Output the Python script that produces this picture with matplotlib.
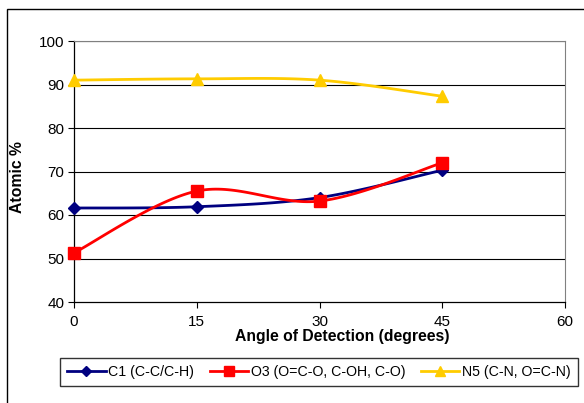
import numpy as np
import matplotlib
matplotlib.use("Agg")
import matplotlib.pyplot as plt
from matplotlib.patches import Rectangle
from matplotlib.lines import Line2D

angles = [0, 15, 30, 45]
c1 = [61.6, 61.9, 64.0, 70.3]
o3 = [51.3, 65.5, 63.2, 72.0]
n5 = [91.0, 91.3, 91.0, 87.3]
labels = ["C1 (C-C/C-H)", "O3 (O=C-O, C-OH, C-O)", "N5 (C-N, O=C-N)"]
xticks = [0, 15, 30, 45, 60]
yticks = [40, 50, 60, 70, 80, 90, 100]

plt.rcParams['font.family'] = ['Liberation Sans', 'DejaVu Sans']


def smooth(x, y, n=40):
    # Excel-style smoothed line: cubic Bezier with Catmull-Rom control points
    x = np.asarray(x, float); y = np.asarray(y, float)
    px = np.concatenate([[x[0]], x, [x[-1]]])
    py = np.concatenate([[y[0]], y, [y[-1]]])
    xs, ys = [], []
    t = np.linspace(0, 1, n)
    for i in range(1, len(px) - 2):
        p0 = np.array([px[i], py[i]]); p3 = np.array([px[i + 1], py[i + 1]])
        p1 = p0 + (np.array([px[i + 1], py[i + 1]]) - np.array([px[i - 1], py[i - 1]])) / 6
        p2 = p3 - (np.array([px[i + 2], py[i + 2]]) - np.array([px[i], py[i]])) / 6
        b = ((1 - t) ** 3)[:, None] * p0 + (3 * (1 - t) ** 2 * t)[:, None] * p1 + \
            (3 * (1 - t) * t ** 2)[:, None] * p2 + (t ** 3)[:, None] * p3
        xs.extend(b[:, 0]); ys.extend(b[:, 1])
    return xs, ys


fig = plt.figure(figsize=(5.84, 4.03), dpi=100)
fig.patch.set_facecolor('white')
fig.patches.append(Rectangle((6.5 / 584, -0.1), 1.2, 1 - 9.5 / 403 + 0.1,
                             transform=fig.transFigure, fill=False,
                             edgecolor='black', linewidth=1.0))

ax = fig.add_axes([74 / 584, 1 - 302 / 403, (565 - 74) / 584, (302 - 41) / 403])
ax.set_xlim(0, 60)
ax.set_ylim(40, 100)
ax.set_xticks(xticks)
ax.set_yticks(yticks)
ax.tick_params(labelsize=11, direction='out', length=4, width=0.8, colors='black')
ax.tick_params(axis='x', pad=5)
ax.tick_params(axis='y', pad=3)
for y in yticks[1:]:
    ax.axhline(y, color='black', linewidth=0.8, zorder=1)
ax.spines['top'].set_color('#808080')
ax.spines['right'].set_color('#808080')
ax.spines['left'].set_linewidth(0.9)
ax.spines['bottom'].set_linewidth(0.9)

series = [
    (c1, '#000080', 'D', 6),
    (o3, '#FF0000', 's', 8.5),
    (n5, '#FFCC00', '^', 9),
]
leg_ms = [5, 7, 7.5]
handles = []
for (vals, col, mk, ms), lab, lms in zip(series, labels, leg_ms):
    sx, sy = smooth(angles, vals)
    ax.plot(sx, sy, color=col, linewidth=2, zorder=3, clip_on=False)
    ax.plot(angles, vals, linestyle='none', marker=mk, markersize=ms,
            color=col, markeredgecolor=col, zorder=4, clip_on=False)
    handles.append(Line2D([], [], color=col, linewidth=2, marker=mk,
                          markersize=lms, markeredgecolor=col, label=lab))

ax.set_xlabel("Angle of Detection (degrees)", fontsize=11.3, fontweight='bold')
ax.xaxis.set_label_coords((342 - 74) / (565 - 74), -0.105)
ax.set_ylabel("Atomic %", fontsize=11.3, fontweight='bold')
ax.yaxis.set_label_coords(-0.1, 0.48)

leg = fig.legend(handles=handles, loc='center', ncol=3,
                 bbox_to_anchor=(319 / 584, 1 - 372 / 403),
                 fontsize=10.2, frameon=True, fancybox=False, edgecolor='black',
                 handlelength=2.7, handletextpad=0.2, columnspacing=1.1,
                 borderpad=0.5, borderaxespad=0)
leg.get_frame().set_linewidth(1.0)

fig.savefig("out.png", dpi=100)
